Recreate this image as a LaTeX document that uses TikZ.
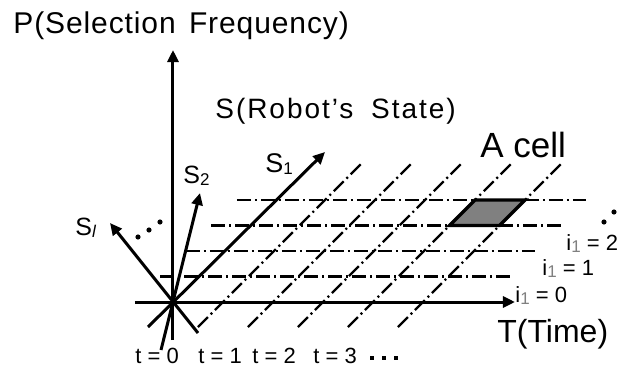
\documentclass[tikz,border=0pt]{standalone}
\usepackage{fontspec}
\setmainfont{Liberation Sans}
\usetikzlibrary{arrows.meta}

\newcommand{\lowsub}[2][black]{\raisebox{-1pt}{\fontsize{8.5}{9}\selectfont\color{#1}#2}}

\tikzset{
  axis/.style={line width=1.5pt, -{Triangle[length=6pt,width=5.5pt]}},
  gridline/.style={line width=1.1pt, dash pattern=on 7pt off 2pt on 1pt off 2pt},
  lab/.style={inner sep=0pt, anchor=base west},
}

\begin{document}
\begin{tikzpicture}[x=0.5pt, y=-0.5pt]
  \useasboundingbox (0,0) rectangle (618,370);
  \coordinate (O) at (173,302);
  \coordinate (Pbot) at (173,340);
  \coordinate (Ptop) at (173,50);
  \coordinate (Tbot) at (135,302);
  \coordinate (Ttop) at (515,302);
  \coordinate (S1bot) at (148,327);
  \coordinate (S1top) at (325,152);
  \coordinate (S2bot) at (161,350);
  \coordinate (S2top) at (200,193);
  \coordinate (Slbot) at (198,333);
  \coordinate (Sltop) at (110,223);
  % grid lines
  \foreach \k in {1,...,4}{
    \draw[gridline] ({135+25.5*\k},{302-25.5*\k}) -- ({484.5+25.5*\k},{302-25.5*\k});
  }
  \foreach \j in {1,...,5}{
    \draw[gridline] ({148+50*\j},327) -- ({311+50*\j},164);
  }
  % the cell
  \draw[fill=gray, line width=1.7pt, line join=miter] (449.5,225.5) -- (499.5,225.5) -- (525,200) -- (475,200) -- cycle;
  % axes
  \draw[axis] (Pbot) -- (Ptop);
  \draw[axis] (Tbot) -- (Ttop);
  \draw[axis] (S1bot) -- (S1top);
  \draw[axis] (S2bot) -- (S2top);
  \draw[axis] (Slbot) -- (Sltop);
  % dots
  \foreach \x/\y in {138/237, 149/230, 160/222, 604/222, 614/212}{
    \fill (\x,\y) circle[radius=1.3pt];
  }
  \foreach \x in {370, 382, 394.5}{
    \fill (\x,355.5) rectangle +(4,4);
  }
  % labels
  \node[lab, font=\fontsize{15}{17}\selectfont\addfontfeature{LetterSpace=3}] (plab) at (13,33) {P(Selection\hspace{2pt} Frequency)};
  \node[lab, font=\fontsize{14}{16}\selectfont\addfontfeature{LetterSpace=7}] (slab) at (215,118) {S(Robot’s\hspace{4pt} State)};
  \node[lab, font=\fontsize{17.5}{19}\selectfont] (cell) at (480,157) {A cell};
  \node[lab, font=\fontsize{16}{18}\selectfont] (tlab) at (497,342) {T(Time)};
  \node[lab, font=\fontsize{13.5}{15}\selectfont] (s1) at (265,172) {S\lowsub{1}};
  \node[lab, font=\fontsize{12.5}{14}\selectfont] (s2) at (183,183) {S\lowsub{2}};
  \node[lab, font=\fontsize{12.5}{14}\selectfont] (sl) at (75,235) {S\lowsub{\itshape l}};
  \foreach \x/\n in {135/0, 198/1, 252/2, 313/3}{
    \node[lab, font=\fontsize{11}{12}\selectfont] (t\n) at (\x,363) {t = \n};
  }
  \foreach \x/\y/\n in {515/302/0, 542/275/1, 566/250/2}{
    \node[lab, font=\fontsize{11}{12}\selectfont] (i\n) at (\x,\y) {i\lowsub[gray]{1} = \n};
  }
\end{tikzpicture}
\end{document}
